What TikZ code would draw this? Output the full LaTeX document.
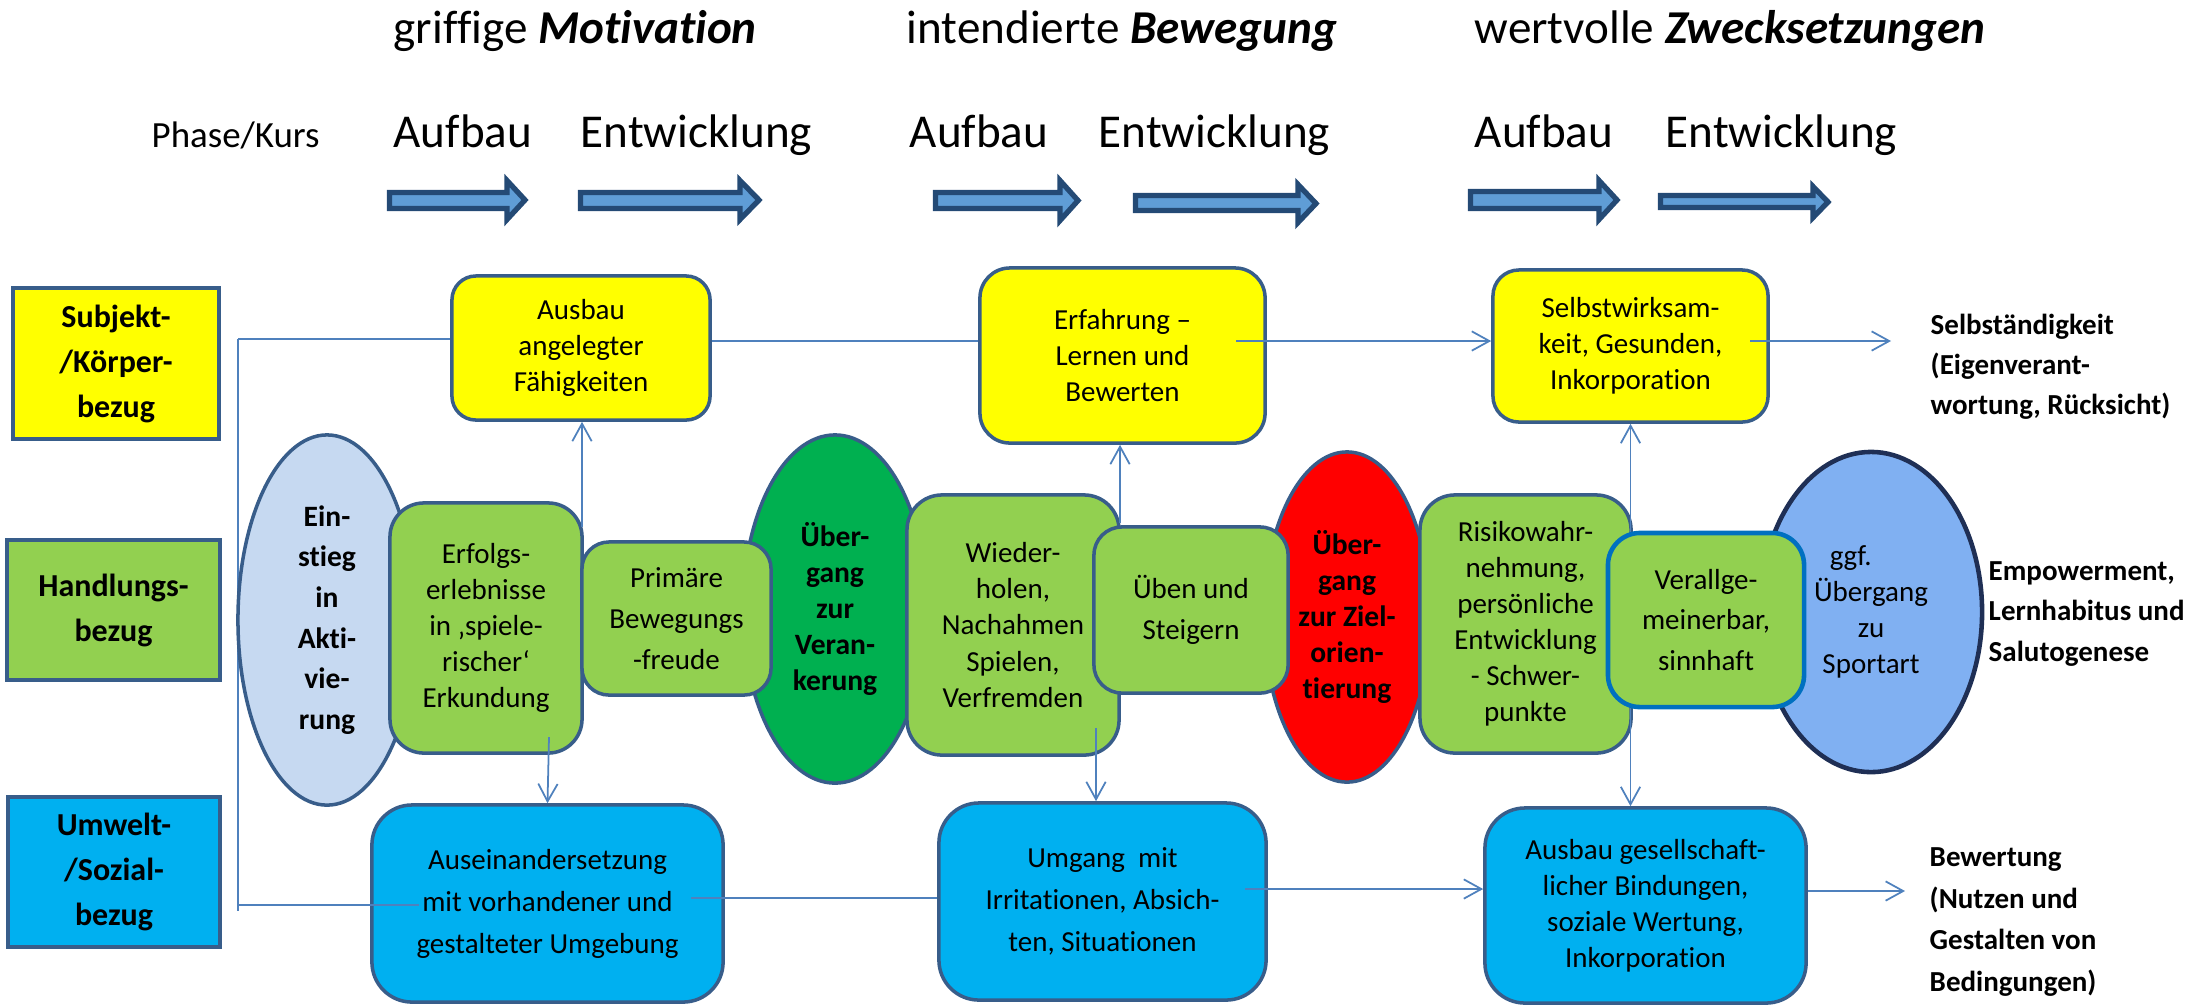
\documentclass[tikz,border=0pt]{standalone}
\usepackage{fontspec}
\setmainfont{Carlito}[Ligatures={TeX,NoCommon}]
\usetikzlibrary{shapes.geometric,arrows.meta}
\definecolor{bordc}{HTML}{385D8A}
\definecolor{linkc}{HTML}{4F81BD}
\definecolor{yelc}{HTML}{FFFF00}
\definecolor{lgrc}{HTML}{92D050}
\definecolor{dgrc}{HTML}{00B050}
\definecolor{cyac}{HTML}{00B0F0}
\definecolor{redc}{HTML}{FF0000}
\definecolor{palec}{HTML}{C6D9F1}
\definecolor{midbc}{HTML}{80B0F2}
\definecolor{navyc}{HTML}{1F2F55}
\definecolor{verbc}{HTML}{0070C0}
\definecolor{afillc}{HTML}{5F9DD6}
\definecolor{alinec}{HTML}{244A75}
\newcommand{\hdrarrow}[7]{%
  \draw[hdrarr] (#1,#4) -- (#2,#4) -- (#2,#6) -- (#3,{(#6+#7)/2}) -- (#2,#7) -- (#2,#5) -- (#1,#5) -- cycle;}
\tikzset{
  barb/.tip={Straight Barb[length=5pt,width=5.5pt]},
  hdrarr/.style={draw=alinec, fill=afillc, line width=1.5pt, line join=miter},
  hdr/.style={font=\fontsize{13.4}{16}\selectfont, inner sep=0pt, anchor=base west},
  lbl/.style={draw=bordc, line width=1.2pt, inner sep=0pt, align=center, font=\fontsize{9.1}{12.8}\selectfont\bfseries},
  rbox/.style={draw=bordc, line width=1pt, rounded corners=#1, inner sep=0pt, align=center},
  txs/.style={font=\fontsize{8.25}{10.25}\selectfont},
  txl/.style={font=\fontsize{8.25}{11.6}\selectfont},
  txb/.style={font=\fontsize{8.25}{11.95}\selectfont},
  oval/.style={ellipse, draw=bordc, line width=1pt, inner sep=0pt, align=center},
  btx/.style={font=\fontsize{8.4}{10.3}\selectfont\bfseries},
  link/.style={draw=linkc, line width=0.5pt},
  arr/.style={link, -barb},
  darr/.style={link, barb-barb},
  side/.style={inner sep=0pt, anchor=west, align=left, font=\fontsize{8.25}{11.4}\selectfont\bfseries},
}
\begin{document}
\begin{tikzpicture}[x=0.01cm,y=-0.01cm]
\useasboundingbox (0,0) rectangle (2207,1005);
% ---------- header ----------
\node[hdr] (t1) at (393,43) {griffige \textbf{\textit{Motivation}}};
\node[hdr] (t2) at (906,43) {intendierte \textbf{\textit{Bewegung}}};
\node[hdr] (t3) at (1474,43) {wertvolle \textbf{\textit{Zwecksetzungen}}};
\node[hdr, font=\fontsize{10.5}{12}\selectfont] (pk) at (151,147) {Phase/Kurs};
\node[hdr] (p1) at (393,147) {Aufbau};
\node[hdr] (p2) at (580,147) {Entwicklung};
\node[hdr] (p3) at (909,147) {Aufbau};
\node[hdr] (p4) at (1098,147) {Entwicklung};
\node[hdr] (p5) at (1474,147) {Aufbau};
\node[hdr] (p6) at (1665,147) {Entwicklung};
\hdrarrow{389.5}{507}{525}{192.5}{208.5}{180.5}{219.5}
\hdrarrow{580.5}{740}{759}{192.5}{208.5}{180.5}{219.5}
\hdrarrow{935.5}{1060}{1078}{192.5}{208.5}{180.5}{220.5}
\hdrarrow{1135.5}{1298}{1316}{195.5}{210.5}{184.5}{222.5}
\hdrarrow{1470.5}{1599}{1617}{191.5}{208.5}{180.5}{219.5}
\hdrarrow{1660.5}{1813}{1828}{195.5}{207.5}{186.5}{217.5}
% ---------- left labels ----------
\node[lbl, fill=yelc, minimum width=2.06cm, minimum height=1.51cm] (subj) at (116,363.5) {Subjekt-\\/Körper-\\bezug};
\node[lbl, fill=lgrc, minimum width=2.13cm, minimum height=1.40cm] (handl) at (113.5,610) {Handlungs-\\bezug};
\node[lbl, fill=cyac, minimum width=2.12cm, minimum height=1.50cm] (umw) at (114,872) {Umwelt-\\/Sozial-\\bezug};
% ---------- bracket ----------
\coordinate (brt) at (238,339);
\coordinate (brb) at (238,911);
\coordinate (brh) at (238,905);
\draw[link] (brt) -- (brb);
% ---------- top row ----------
\node[rbox=0.24cm, fill=yelc, minimum width=2.58cm, minimum height=1.44cm, txs] (ausbau) at (581,348) {Ausbau\\angelegter\\Fähigkeiten};
\node[rbox=0.3cm, fill=yelc, minimum width=2.85cm, minimum height=1.75cm, txs] (erf) at (1122.5,355.5) {Erfahrung –\\Lernen und\\Bewerten};
\node[rbox=0.26cm, fill=yelc, minimum width=2.75cm, minimum height=1.52cm, txs] (selbst) at (1630.5,346) {Selbstwirksam-\\keit, Gesunden,\\Inkorporation};
\coordinate (toprow) at (0,341);
\draw[link] (brt) -- (ausbau.west |- brt);
\draw[link] (ausbau.east |- toprow) -- (erf.west |- toprow);
\coordinate (e1) at (1236,341);
\draw[arr] (e1) -- (selbst.west |- toprow);
\coordinate (s1) at (1750,341);
\coordinate (s2) at (1891,341);
\draw[arr] (s1) -- (s2);
% ---------- bottom row ----------
\node[rbox=0.4cm, fill=cyac, minimum width=3.51cm, minimum height=1.97cm, txb] (ausein) at (547.5,903.5) {Auseinandersetzung\\mit vorhandener und\\gestalteter Umgebung};
\node[rbox=0.4cm, fill=cyac, minimum width=3.27cm, minimum height=1.97cm, txb] (umgang) at (1102.5,901.5) {Umgang~ mit\\Irritationen, Absich-\\ten, Situationen};
\node[rbox=0.4cm, fill=cyac, minimum width=3.21cm, minimum height=1.95cm, txs] (ausbau2) at (1645.5,905.5) {Ausbau gesellschaft-\\licher Bindungen,\\soziale Wertung,\\Inkorporation};
\coordinate (a1) at (419,905);
\draw[link] (brh) -- (a1);
\coordinate (a2) at (691,898);
\draw[link] (a2) -- (umgang.west |- a2);
\coordinate (u1) at (1245,889);
\draw[arr] (u1) -- (ausbau2.west |- u1);
\coordinate (b2) at (1905,891);
\draw[arr] (ausbau2.east |- b2) -- (b2);
% ---------- middle row ----------
\node[oval, fill=palec, minimum width=1.78cm, minimum height=3.70cm, font=\fontsize{8.4}{11.55}\selectfont\bfseries] (einst) at (327,620) {Ein-\\stieg\\in\\Akti-\\vie-\\rung};
\node[rbox=0.34cm, fill=lgrc, minimum width=1.92cm, minimum height=2.50cm, txs] (erfolg) at (486,628) {Erfolgs-\\erlebnisse\\in ‚spiele-\\rischer‘\\Erkundung};
\node[oval, fill=dgrc, minimum width=1.84cm, minimum height=3.48cm, btx] (verank) at (835,609) {Über-\\gang\\zur\\Veran-\\kerung};
\node[rbox=0.27cm, fill=lgrc, minimum width=1.89cm, minimum height=1.53cm, txl] (prim) at (676.5,618.5) {Primäre\\Bewegungs\\-freude};
\node[oval, fill=redc, minimum width=1.66cm, minimum height=3.30cm, btx] (ziel) at (1347,617) {Über-\\gang\\zur Ziel-\\orien-\\tierung};
\node[rbox=0.35cm, fill=lgrc, minimum width=2.12cm, minimum height=2.60cm, txs] (wieder) at (1013,625) {Wieder-\\holen,\\Nachahmen\\Spielen,\\Verfremden};
\node[rbox=0.28cm, fill=lgrc, minimum width=1.94cm, minimum height=1.66cm, txl] (ueben) at (1191,610) {Üben und\\Steigern};
\node[rbox=0.35cm, fill=lgrc, minimum width=2.11cm, minimum height=2.58cm, txs] (risiko) at (1525.5,624) {Risikowahr-\\nehmung,\\persönliche\\Entwicklung\\- Schwer-\\punkte};
\node[oval, draw=navyc, line width=1.3pt, fill=midbc, minimum width=2.22cm, minimum height=3.20cm, txs] (sport) at (1871,612) {ggf.\hspace*{1.4em}\\Übergang\\zu\\Sportart};
\draw[darr] (selbst.south) -- (selbst.south |- ausbau2.north);
\node[rbox=0.32cm, draw=verbc, line width=1.3pt, fill=lgrc, minimum width=1.96cm, minimum height=1.74cm, txl] (verall) at (1706,620) {Verallge-\\meinerbar,\\sinnhaft};
% ---------- vertical connectors ----------
\coordinate (v1) at (582,527);
\draw[arr] (v1) -- (ausbau.south -| v1);
\coordinate (v2) at (549,737);
\draw[arr] (v2) -- (ausein.north);
\coordinate (v3) at (1120,523);
\draw[arr] (v3) -- (erf.south -| v3);
\coordinate (v4) at (1096,728);
\draw[arr] (v4) -- (umgang.north -| v4);
% ---------- right labels ----------
\node[side] (r1) at (1930,367) {Selbständigkeit\\(Eigenverant-\\wortung, Rücksicht)};
\node[side] (r2) at (1988,614) {Empowerment,\\Lernhabitus und\\Salutogenese};
\node[side, font=\fontsize{8.25}{11.8}\selectfont\bfseries] (r3) at (1929,922) {Bewertung\\(Nutzen und\\Gestalten von\\Bedingungen)};
\end{tikzpicture}
\end{document}
